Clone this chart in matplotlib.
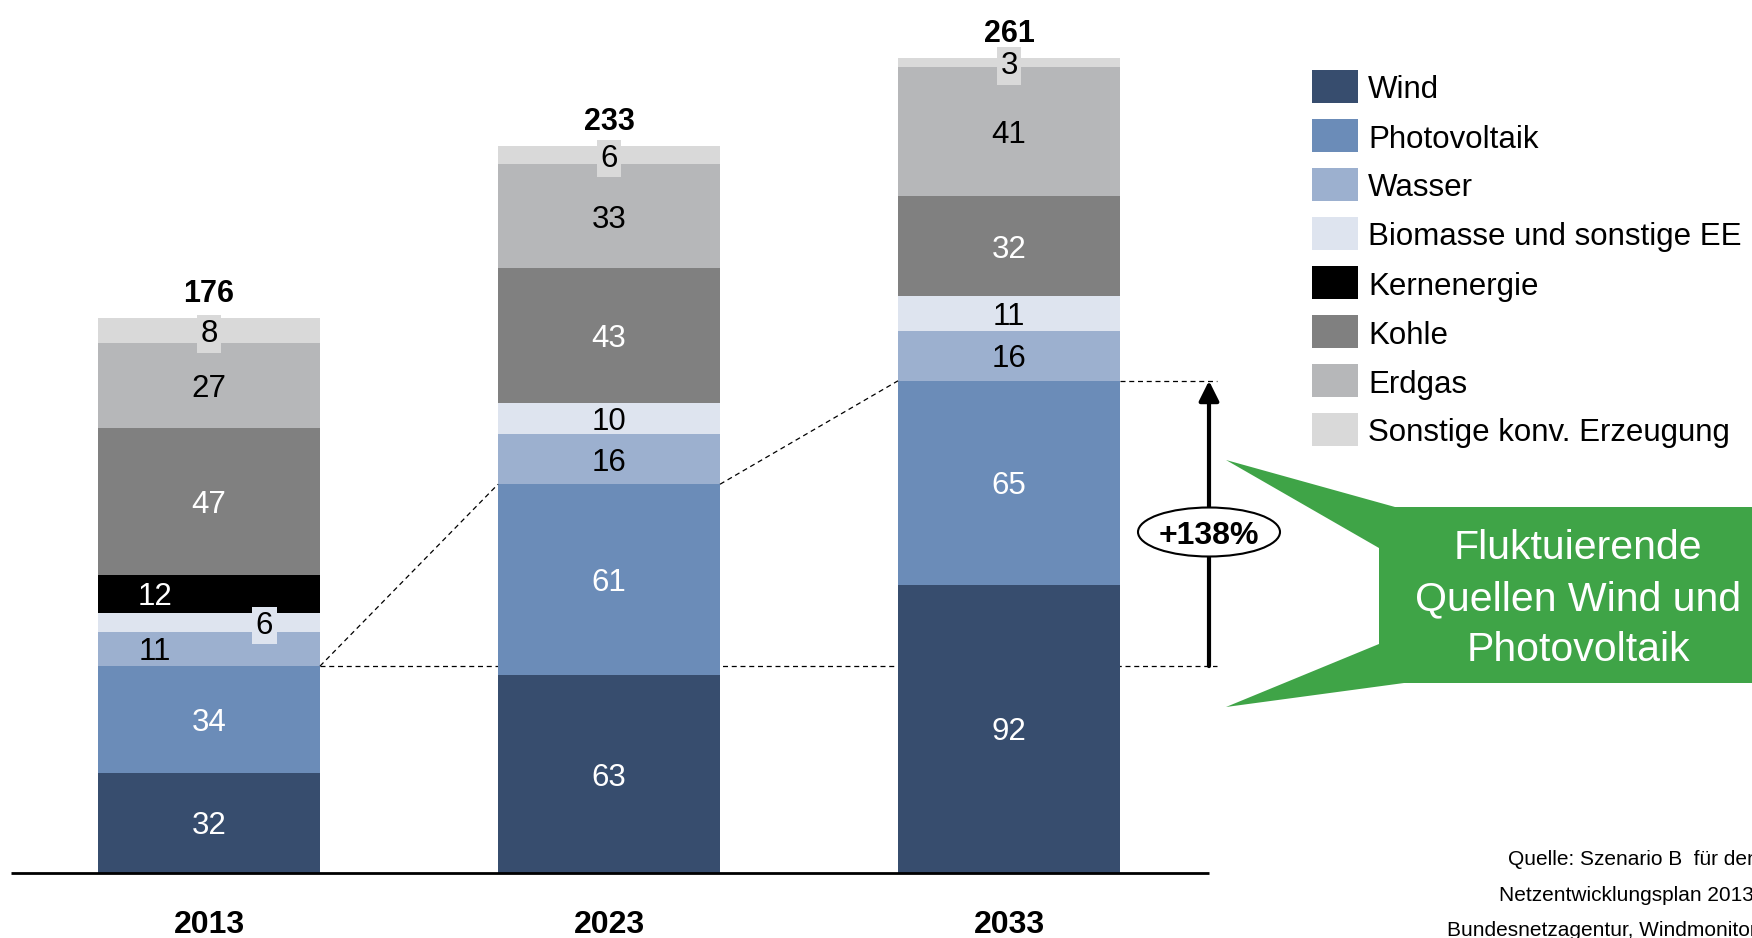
import matplotlib
matplotlib.use("Agg")
import matplotlib.pyplot as plt
from matplotlib.patches import Rectangle, Polygon, Ellipse
import numpy as np

plt.rcParams['font.family'] = ['Liberation Sans', 'DejaVu Sans']

# Installed capacity (GW) by source, stacked bottom-up
years = ["2013", "2023", "2033"]
categories = ["Wind", "Photovoltaik", "Wasser", "Biomasse und sonstige EE",
              "Kernenergie", "Kohle", "Erdgas", "Sonstige konv. Erzeugung"]
wind = [32, 63, 92]
photovoltaik = [34, 61, 65]
wasser = [11, 16, 16]
biomasse = [6, 10, 11]
kernenergie = [12, 0, 0]
kohle = [47, 43, 32]
erdgas = [27, 33, 41]
sonstige = [8, 6, 3]
totals = [176, 233, 261]

series = [wind, photovoltaik, wasser, biomasse, kernenergie, kohle, erdgas, sonstige]
colors = ["#374D6E", "#6B8CB8", "#9CB0CF", "#DEE4EF",
          "#000000", "#808080", "#B6B7B9", "#D9D9D9"]
text_colors = ["white", "white", "black", "black",
               "white", "white", "black", "black"]

W, H = 1752, 938
fig = plt.figure(figsize=(W / 100, H / 100), dpi=100)

base_px = 873
px_per_unit = 3.135
ymax = 270
ax = fig.add_axes([0, (H - base_px) / H, 1, ymax * px_per_unit / H])
x0_px, step_px = 209, 400
ax.set_xlim(-x0_px / step_px, (W - x0_px) / step_px)
ax.set_ylim(0, ymax)
ax.axis('off')

x = np.arange(len(years))
bar_w = 222 / step_px
bottom = np.zeros(len(years))

# label placement tweaks for the thin segments of the first column
label_shift = {(0, "Wasser"): -0.135, (0, "Kernenergie"): -0.135,
               (0, "Biomasse und sonstige EE"): 0.138}
boxed = {(0, "Biomasse und sonstige EE")}

for cat, vals, col, tcol in zip(categories, series, colors, text_colors):
    vals = np.array(vals, dtype=float)
    ax.bar(x, vals, bar_w, bottom=bottom, color=col, linewidth=0, zorder=2)
    for i, v in enumerate(vals):
        if v <= 0:
            continue
        xi = x[i] + label_shift.get((i, cat), 0.0)
        yi = bottom[i] + v / 2
        kw = {}
        if cat == "Sonstige konv. Erzeugung" or (i, cat) in boxed:
            kw["bbox"] = dict(boxstyle="square,pad=0.12", fc=col, ec="none")
        ax.text(xi, yi, f"{int(v)}", ha="center", va="center_baseline",
                fontsize=22.5, color=tcol, zorder=4, **kw)
    bottom += vals

# totals above the columns
for i, t in enumerate(totals):
    ax.annotate(f"{t}", xy=(x[i], bottom[i]), xytext=(0, 16),
                textcoords="offset pixels", ha="center", va="baseline",
                fontsize=22, fontweight="bold", zorder=4)

# year labels under the baseline
for i, yr in enumerate(years):
    ax.annotate(yr, xy=(x[i], 0), xytext=(0, -60), textcoords="offset pixels",
                ha="center", va="baseline", fontsize=23, fontweight="bold")

# fluctuating sources (wind + PV)
fluct = np.array(wind) + np.array(photovoltaik)
dash = (0, (4, 3))
for i in range(len(years) - 1):
    ax.plot([x[i] + bar_w / 2, x[i + 1] - bar_w / 2], [fluct[i], fluct[i + 1]],
            ls=dash, color="black", lw=0.9, zorder=3)

arrow_x = 2.5
ax.plot([x[0] + bar_w / 2, arrow_x + 0.02], [fluct[0]] * 2, ls=dash,
        color="black", lw=0.9, zorder=1, clip_on=False)
ax.plot([x[-1] + bar_w / 2, arrow_x + 0.02], [fluct[-1]] * 2, ls=dash,
        color="black", lw=0.9, zorder=1, clip_on=False)

ax.annotate("", xy=(arrow_x, fluct[-1]), xytext=(arrow_x, fluct[0]),
            arrowprops=dict(arrowstyle="-|>,head_length=0.4,head_width=0.2",
                            mutation_scale=30, lw=3, color="black",
                            shrinkA=0, shrinkB=0), zorder=3)

growth = round((fluct[-1] / fluct[0] - 1) * 100)
ey = fluct[0] + 0.47 * (fluct[-1] - fluct[0])
ax.add_patch(Ellipse((arrow_x, ey), 142 / step_px, 49 / px_per_unit,
                     fc="white", ec="black", lw=1.5, zorder=5))
ax.text(arrow_x, ey, f"+{growth}%", ha="center", va="center_baseline",
        fontsize=23, fontweight="bold", zorder=6)

# baseline
ax.plot([-0.495, arrow_x], [0, 0], color="black", lw=2,
        solid_capstyle="butt", clip_on=False, zorder=3)

# overlay in pixel coordinates for legend, callout and source note
ov = fig.add_axes([0, 0, 1, 1])
ov.set_xlim(0, W)
ov.set_ylim(H, 0)
ov.axis("off")
ov.patch.set_visible(False)

for k, (cat, col) in enumerate(zip(categories, colors)):
    cy = 87 + 49 * k
    ov.add_patch(Rectangle((1312, cy - 16.5), 46, 33, fc=col, ec="none"))
    ov.text(1368, cy, cat, ha="left", va="center_baseline", fontsize=22.5)

callout = [(1226, 460), (1395, 507), (1760, 507), (1760, 683),
           (1404, 683), (1226, 707), (1379, 644), (1379, 548)]
ov.add_patch(Polygon(callout, closed=True, fc="#3FA447", ec="none"))
ov.text(1578, 599, "Fluktuierende\nQuellen Wind und\nPhotovoltaik",
        ha="center", va="center", fontsize=29.5, color="white",
        linespacing=1.44, multialignment="center")

ov.text(1508, 865, "Quelle: Szenario B  für den", fontsize=15, va="baseline")
ov.text(1499, 901, "Netzentwicklungsplan 2013", fontsize=15, va="baseline")
ov.text(1447, 936, "Bundesnetzagentur, Windmonitor", fontsize=15, va="baseline")

fig.savefig("out.png", dpi=100)
